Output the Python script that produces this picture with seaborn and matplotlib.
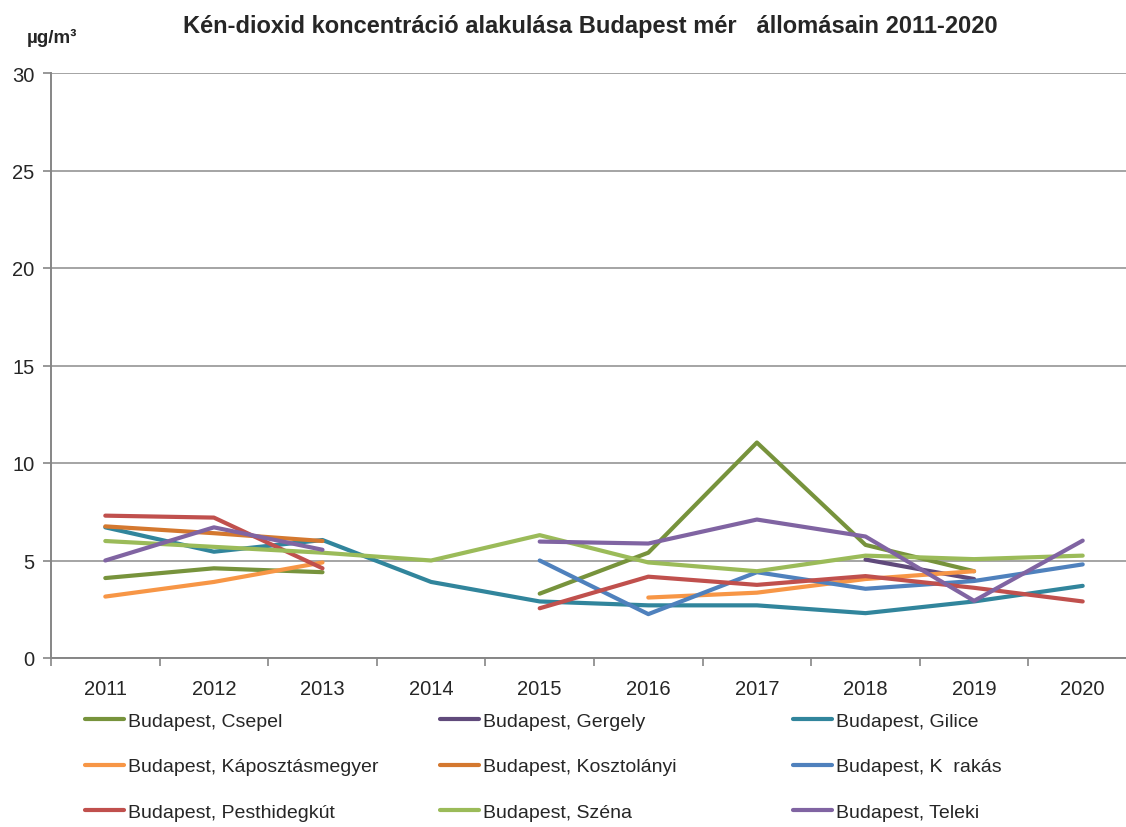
import pandas as pd
import numpy as np
import matplotlib
matplotlib.use("Agg")
import matplotlib.pyplot as plt
import seaborn as sns
from matplotlib.ticker import MultipleLocator, FixedLocator

years = [2011, 2012, 2013, 2014, 2015, 2016, 2017, 2018, 2019, 2020]
stations = ["Budapest, Csepel", "Budapest, Gergely", "Budapest, Gilice",
            "Budapest, Káposztásmegyer", "Budapest, Kosztolányi", "Budapest, K  rakás",
            "Budapest, Pesthidegkút", "Budapest, Széna", "Budapest, Teleki"]
csepel = [4.1, 4.6, 4.4, None, 3.3, 5.4, 11.05, 5.8, 4.45, None]
gergely = [None, None, None, None, None, None, None, 5.05, 4.05, None]
gilice = [6.7, 5.45, 6.05, 3.9, 2.9, 2.7, 2.7, 2.3, 2.9, 3.7]
kaposztasmegyer = [3.15, 3.9, 4.9, None, None, 3.1, 3.35, 4.05, 4.45, None]
kosztolanyi = [6.75, 6.4, 6.0, None, None, None, None, None, None, None]
korakas = [None, None, None, None, 5.0, 2.25, 4.4, 3.55, 3.95, 4.8]
pesthidegkut = [7.3, 7.2, 4.6, None, 2.55, 4.17, 3.75, 4.2, 3.6, 2.9]
szena = [6.0, 5.7, 5.4, 5.0, 6.3, 4.9, 4.45, 5.25, 5.07, 5.25]
teleki = [5.0, 6.7, 5.55, None, 5.97, 5.87, 7.1, 6.23, 2.93, 6.02]
colors = ["#77933C", "#604A7B", "#31859C", "#F79646", "#D4782F",
          "#4F81BD", "#C0504D", "#9BBB59", "#8064A2"]

series = [csepel, gergely, gilice, kaposztasmegyer, kosztolanyi,
          korakas, pesthidegkut, szena, teleki]

# long table, with a segment id so gaps stay broken
rows = []
for name, vals in zip(stations, series):
    seg = 0
    prev = None
    for yr, v in zip(years, vals):
        if v is None:
            if prev is not None:
                seg += 1
            prev = None
            continue
        rows.append({"station": name, "year": yr, "value": v, "seg": f"{name}_{seg}"})
        prev = v
df = pd.DataFrame(rows)

sns.set_style("white")
plt.rcParams['font.family'] = ['Liberation Sans', 'DejaVu Sans']

fig = plt.figure(figsize=(11.26, 8.28), dpi=100)
ax = fig.add_axes([51 / 1126, 1 - 659 / 828, 1086 / 1126, 585 / 828])

sns.lineplot(data=df, x="year", y="value", hue="station", units="seg",
             estimator=None, hue_order=stations, palette=colors,
             linewidth=3.0, ax=ax, legend=False, solid_capstyle="round")

ax.set_xlim(2010.5, 2020.5)
ax.set_ylim(0, 30)
ax.yaxis.set_major_locator(MultipleLocator(5))
ax.yaxis.grid(True, color="#8c8c8c", linewidth=1.1)
ax.set_axisbelow(True)
ax.set_xticks(years)
ax.set_xticklabels([str(y) for y in years])
ax.xaxis.set_minor_locator(FixedLocator([y + 0.5 for y in years[:-1]] + [2010.5]))
ax.tick_params(axis="x", which="major", length=0, pad=15, labelsize=14.5)
ax.tick_params(axis="x", which="minor", length=6, width=1.2, color="#868686", bottom=True)
ax.tick_params(axis="y", length=6, width=1.2, color="#868686", left=True, labelsize=14.5, pad=6)
for side in ["top", "right"]:
    ax.spines[side].set_visible(False)
for side in ["left", "bottom"]:
    ax.spines[side].set_color("#868686")
    ax.spines[side].set_linewidth(1.4)
ax.set_xlabel("")
ax.set_ylabel("")

fig.text(590 / 1126, 1 - 26 / 828, "Kén-dioxid koncentráció alakulása Budapest mér   állomásain 2011-2020",
         ha="center", va="center", fontsize=17, fontweight="bold")
fig.text(52 / 1126, 1 - 38 / 828, "µg/m³", ha="center", va="center",
         fontsize=13.5, fontweight="bold")

handles = [plt.Line2D([], [], color=c, linewidth=3) for c in colors]
col_x = [85, 440, 793]
for i, x in enumerate(col_x):
    leg = fig.legend(handles[i::3], stations[i::3], loc="upper left",
                     bbox_to_anchor=(x / 1126, 1 - 713 / 828), borderaxespad=0,
                     borderpad=0, frameon=False, fontsize=14, handlelength=2.0,
                     handletextpad=0.2, labelspacing=1.45)

fig.savefig("out.png", dpi=100)
